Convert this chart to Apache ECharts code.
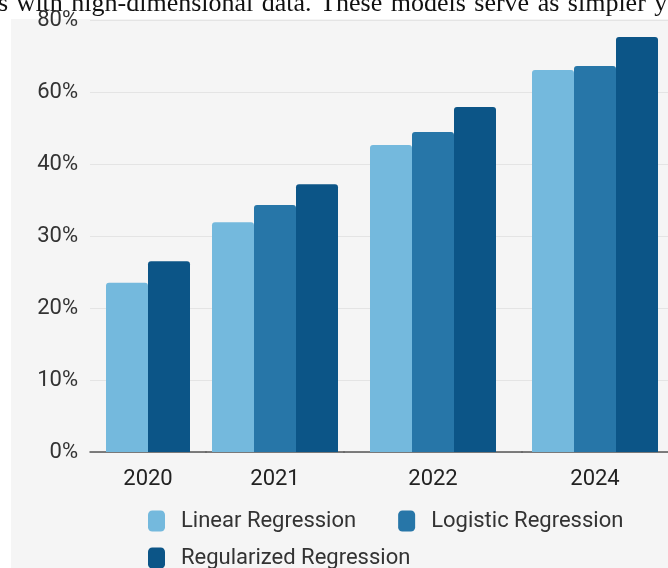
<!DOCTYPE html>
<html>
<head>
<meta charset="utf-8">
<title>Regression model accuracy by year</title>
<script src="https://cdn.jsdelivr.net/npm/echarts@6/dist/echarts.min.js"></script>
<style>
  html, body { margin: 0; padding: 0; background: #ffffff; }
  #chart { width: 668px; height: 568px; }
</style>
</head>
<body>
<div id="chart"></div>
<script>
// Categories and series values (percent)
const years = ['2020', '2021', '2022', '2024'];
const methods = ['Linear Regression', 'Logistic Regression', 'Regularized Regression'];
const linearValues = [23.5, 31.9, 45.3, 66.1];
const logisticValues = [null, 34.3, 48.9, 67.2];
const regularizedValues = [26.5, 37.2, 55.8, 75.3];

// The value axis uses evenly spaced ticks with these labels
const tickValues = [0, 10, 20, 30, 40, 60, 80];
const tickLabels = ['0%', '10%', '20%', '30%', '40%', '60%', '80%'];

const methodValues = [linearValues, logisticValues, regularizedValues];
const methodColors = ['#74b9dd', '#2776a8', '#0c5587'];

// Map a percent onto the piecewise axis (one unit per tick step)
function toAxis(v) {
  for (let k = 0; k < tickValues.length - 1; k++) {
    if (v <= tickValues[k + 1]) {
      return k + (v - tickValues[k]) / (tickValues[k + 1] - tickValues[k]);
    }
  }
  return tickValues.length - 1;
}

const FONT = 'Roboto, "Noto Sans", sans-serif';
const SERIF = '26px "Liberation Serif", "DejaVu Serif", serif';
// One grid per year group so that each group keeps its own width
const groupBounds = [[90, 206], [206, 344], [344, 522], [522, 668]];

const grids = [], xAxes = [], yAxes = [], series = [];
groupBounds.forEach(function (b, i) {
  grids.push({ left: b[0], width: b[1] - b[0], top: 20, bottom: 116 });
  xAxes.push({
    type: 'category', gridIndex: i, data: [years[i]],
    axisLine: { lineStyle: { color: '#555555', width: 1.5 } },
    axisTick: { show: false },
    axisLabel: { color: '#222222', fontSize: 22, fontFamily: FONT, margin: 16 }
  });
  yAxes.push({
    type: 'value', gridIndex: i, min: 0, max: tickValues.length - 1, interval: 1,
    axisLine: { show: false }, axisTick: { show: false },
    axisLabel: {
      show: i === 0, color: '#333333', fontSize: 22, fontFamily: FONT, margin: 12,
      formatter: function (v) { return tickLabels[Math.round(v)]; }
    },
    splitLine: { lineStyle: { color: '#e4e4e4', width: 1 } }
  });
  methods.forEach(function (name, m) {
    const v = methodValues[m][i];
    if (v === null) return;
    series.push({
      name: name, type: 'bar', xAxisIndex: i, yAxisIndex: i,
      barWidth: 42, barGap: '0%',
      itemStyle: { color: methodColors[m], borderRadius: [3, 3, 0, 0] },
      data: [toAxis(v)]
    });
  });
});

const legendText = { color: '#333333', fontSize: 22, fontFamily: FONT, padding: [0, 0, 0, 11] };

// Justified paragraph line above the chart panel: words separated by wider gaps
const paragraphLine = 's with high-dimensional data. These models serve as simpler y'
  .split(' ').map(function (w) { return '{w|' + w + '}'; }).join('{g| }');

const chart = echarts.init(document.getElementById('chart'));
chart.setOption({
  animation: false,
  backgroundColor: '#ffffff',
  graphic: [
    { type: 'rect', z: -10, shape: { x: 11, y: 19, width: 657, height: 549 }, style: { fill: '#f5f5f5' } },
    {
      type: 'text', left: -2, top: -9, z: -5,
      style: {
        text: paragraphLine,
        font: SERIF, fill: '#111111',
        rich: {
          w: { font: SERIF, fill: '#111111' },
          g: { font: SERIF, width: 8.5 }
        }
      }
    }
  ],
  grid: grids,
  xAxis: xAxes,
  yAxis: yAxes,
  legend: [
    {
      data: methods.slice(0, 2), left: 148, top: 510, padding: 0, icon: 'roundRect',
      itemWidth: 17, itemHeight: 21, itemGap: 42, textStyle: legendText
    },
    {
      data: methods.slice(2), left: 148, top: 547, padding: 0, icon: 'roundRect',
      itemWidth: 17, itemHeight: 21, textStyle: legendText
    }
  ],
  series: series
});
</script>
</body>
</html>
